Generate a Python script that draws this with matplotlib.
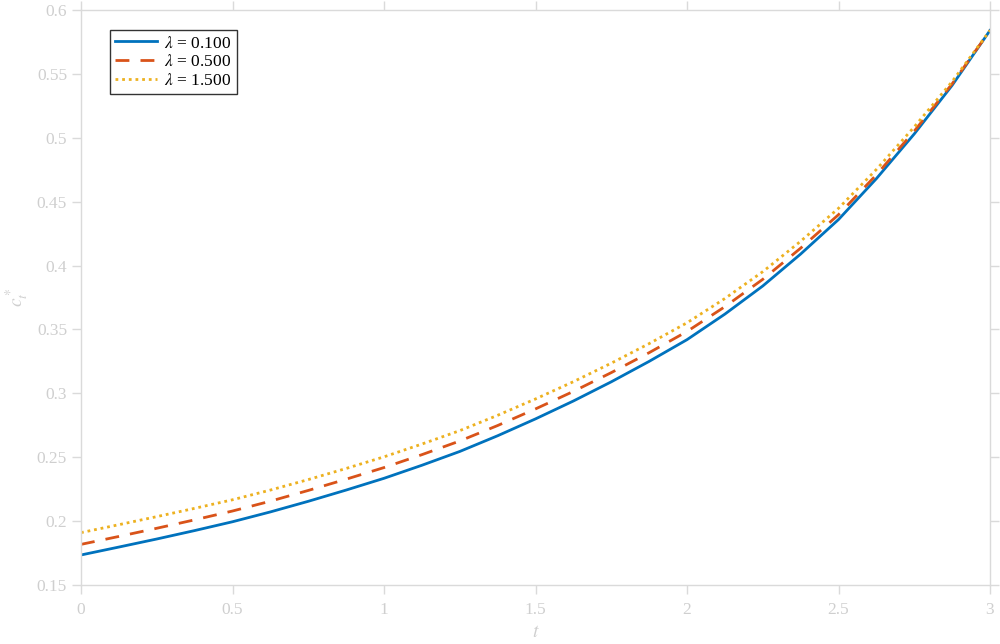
import matplotlib
matplotlib.use('Agg')
import matplotlib.pyplot as plt

# values (step 0.125 in t)
t = [0, 0.125, 0.25, 0.375, 0.5, 0.625, 0.75, 0.875, 1.0, 1.125, 1.25, 1.375, 1.5,
     1.625, 1.75, 1.875, 2.0, 2.125, 2.25, 2.375, 2.5, 2.625, 2.75, 2.875, 3.0]
c_lam01 = [0.1735, 0.1797, 0.1860, 0.1926, 0.1995, 0.2072, 0.2155, 0.2243, 0.2335,
           0.2437, 0.2545, 0.2668, 0.2800, 0.2940, 0.3090, 0.3250, 0.3420, 0.3620,
           0.3840, 0.4090, 0.4360, 0.4680, 0.5030, 0.5410, 0.5840]
c_lam05 = [0.1818, 0.1880, 0.1944, 0.2010, 0.2079, 0.2156, 0.2240, 0.2328, 0.2419,
           0.2520, 0.2627, 0.2748, 0.2878, 0.3015, 0.3162, 0.3318, 0.3484, 0.3678,
           0.3892, 0.4136, 0.4398, 0.4710, 0.5052, 0.5422, 0.5840]
c_lam15 = [0.1910, 0.1972, 0.2035, 0.2100, 0.2167, 0.2243, 0.2325, 0.2412, 0.2503,
           0.2603, 0.2708, 0.2828, 0.2956, 0.3091, 0.3236, 0.3389, 0.3552, 0.3742,
           0.3952, 0.4190, 0.4448, 0.4752, 0.5085, 0.5440, 0.5840]
labels = [r'$\lambda$ = 0.100', r'$\lambda$ = 0.500', r'$\lambda$ = 1.500']

xticks = [0, 0.5, 1, 1.5, 2, 2.5, 3]
xticklabels = ['0', '0.5', '1', '1.5', '2', '2.5', '3']
yticks = [0.15, 0.2, 0.25, 0.3, 0.35, 0.4, 0.45, 0.5, 0.55, 0.6]
yticklabels = ['0.15', '0.2', '0.25', '0.3', '0.35', '0.4', '0.45', '0.5', '0.55', '0.6']

plt.rcParams['font.family'] = ['Liberation Serif', 'DejaVu Serif']
plt.rcParams['mathtext.fontset'] = 'stix'

gray = '#dadada'
tickgray = '#cfcfcf'

fig = plt.figure(figsize=(10, 6.44), dpi=100)
ax = fig.add_axes([0.081, 0.0916, 0.909, 0.8929])

ax.plot(t, c_lam01, color='#0072BD', lw=2.0, ls='-', label=labels[0])
ax.plot(t, c_lam05, color='#D95319', lw=2.0, ls=(0, (5, 4)), label=labels[1])
ax.plot(t, c_lam15, color='#EDB120', lw=2.0, ls=(0, (1, 1.4)), label=labels[2])

ax.set_xlim(0, 3)
ax.set_ylim(0.15, 0.6)
ax.set_xticks(xticks)
ax.set_xticklabels(xticklabels)
ax.set_yticks(yticks)
ax.set_yticklabels(yticklabels)

for side in ax.spines:
    ax.spines[side].set_color(gray)
    ax.spines[side].set_linewidth(1.0)
ax.tick_params(which='both', direction='out', length=6.5, width=1.0, color=gray,
               labelcolor=tickgray, labelsize=12.5, top=True, right=True,
               labeltop=False, labelright=False)
ax.tick_params(axis='x', pad=6)

ax.set_xlabel(r'$t$', color=tickgray, fontsize=14, labelpad=4)
ax.set_ylabel(r'$c_t^*$', color=tickgray, fontsize=14, labelpad=4)

leg = ax.legend(loc='upper left', bbox_to_anchor=(0.022, 0.98), fontsize=12.5,
                frameon=True, fancybox=False, handlelength=2.4, borderpad=0.3,
                labelspacing=0.15, handletextpad=0.45)
leg.get_frame().set_edgecolor('black')
leg.get_frame().set_linewidth(1.0)

fig.savefig('out.png', dpi=100)
